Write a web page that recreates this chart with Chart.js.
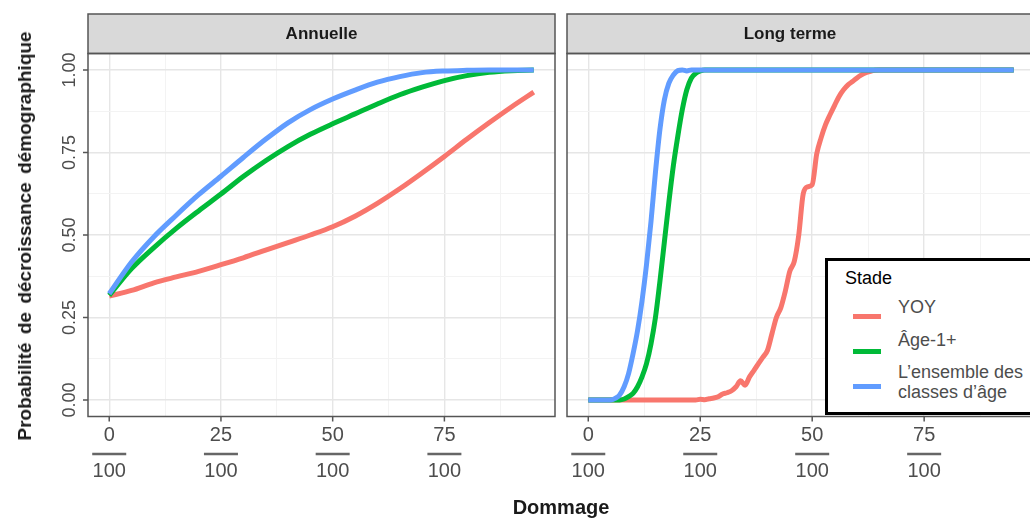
<!DOCTYPE html>
<html>
<head>
<meta charset="utf-8">
<title>Probabilité de décroissance démographique</title>
<script src="https://cdn.jsdelivr.net/npm/chart.js@4.4.1/dist/chart.umd.min.js"></script>
<style>
  html, body { margin: 0; padding: 0; background: #fff; overflow: hidden; }
  body { position: relative; width: 1030px; height: 518px; font-family: "Liberation Sans", Arial, sans-serif; }
  #wrapL { position: absolute; left: 0; top: 0; width: 562px; height: 518px; }
  #wrapR { position: absolute; left: 562px; top: 0; width: 480px; height: 518px; }
  .ytitle { position: absolute; left: 25px; top: 236px; transform: translate(-50%, -50%) rotate(-90deg);
            font-weight: bold; font-size: 19px; color: #1a1a1a; white-space: nowrap; word-spacing: 3px; }
  .xtitle { position: absolute; left: 561px; top: 507px; transform: translate(-50%, -50%);
            font-weight: bold; font-size: 20px; color: #1a1a1a; white-space: nowrap; }
  #legend { position: absolute; left: 825px; top: 258px; width: 220px; height: 157px; box-sizing: border-box;
            border: 3px solid #000; background: #fff; }
  #legend .lt { position: absolute; font-size: 18px; color: #000; line-height: 20px; }
  #legend .key { position: absolute; width: 28px; height: 5px; }
  #legend .lab { position: absolute; font-size: 18px; color: #4d4d4d; line-height: 20px; white-space: nowrap; }
</style>
</head>
<body>
<div id="wrapL"><canvas id="chartL" width="562" height="518"></canvas></div>
<div id="wrapR"><canvas id="chartR" width="480" height="518"></canvas></div>
<div class="ytitle">Probabilité de décroissance démographique</div>
<div class="xtitle">Dommage</div>
<div id="legend"></div>

<script>
// ---- data ----
const panelTitles = ["Annuelle", "Long terme"];
const seriesNames = ["YOY", "Âge-1+", "L’ensemble des\nclasses d’âge"];

const annualDamage = [0, 5, 10, 15, 20, 25, 30, 35, 40, 45, 50, 55, 60, 65, 70, 75, 80, 85, 90, 95];
const annualYOY  = [0.315, 0.332, 0.355, 0.373, 0.39, 0.41, 0.431, 0.454, 0.477, 0.50,
                    0.525, 0.557, 0.596, 0.64, 0.688, 0.738, 0.79, 0.84, 0.888, 0.933];
const annualAge1 = [0.317, 0.398, 0.462, 0.52, 0.573, 0.624, 0.677, 0.725, 0.768, 0.805,
                    0.837, 0.867, 0.897, 0.925, 0.948, 0.968, 0.983, 0.993, 0.998, 1];
const annualAll  = [0.322, 0.418, 0.495, 0.56, 0.622, 0.678, 0.735, 0.79, 0.84, 0.88,
                    0.912, 0.939, 0.963, 0.98, 0.992, 0.997, 0.999, 1, 1, 1];

const longDamage = [0, 2, 4, 5, 6, 7, 8, 9, 10, 11,
                    12, 13, 14, 15, 16, 17, 18, 19, 20, 21,
                    22, 23, 24, 25, 26, 27, 28, 29, 30, 31,
                    32, 33, 34, 35, 36, 37, 38, 39, 40, 41,
                    42, 43, 44, 45, 46, 47, 48, 49, 50, 51,
                    52, 53, 54, 55, 56, 57, 58, 59, 60, 61,
                    62, 63, 64, 65, 66, 70, 75, 80, 85, 90,
                    95];
const longYOY  = [0, 0, 0, 0, 0, 0, 0, 0, 0, 0,
                  0, 0, 0, 0, 0, 0, 0, 0, 0, 0,
                  0, 0, 0, 0.002, 0.001, 0.004, 0.006, 0.01, 0.018, 0.022,
                  0.028, 0.04, 0.058, 0.045, 0.07, 0.09, 0.11, 0.13, 0.15, 0.2,
                  0.25, 0.28, 0.33, 0.39, 0.42, 0.50, 0.625, 0.646, 0.652, 0.745,
                  0.795, 0.835, 0.865, 0.893, 0.92, 0.94, 0.955, 0.965, 0.976, 0.985,
                  0.992, 0.996, 0.999, 1, 1, 1, 1, 1, 1, 1,
                  1];
const longAge1 = [0, 0, 0, 0, 0, 0, 0.003, 0.01, 0.02, 0.04,
                  0.07, 0.11, 0.17, 0.25, 0.36, 0.48, 0.60, 0.71, 0.80, 0.88,
                  0.94, 0.975, 0.99, 0.997, 1, 1, 1, 1, 1, 1,
                  1, 1, 1, 1, 1, 1, 1, 1, 1, 1,
                  1, 1, 1, 1, 1, 1, 1, 1, 1, 1,
                  1, 1, 1, 1, 1, 1, 1, 1, 1, 1,
                  1, 1, 1, 1, 1, 1, 1, 1, 1, 1,
                  1];
const longAll  = [0, 0, 0, 0, 0.005, 0.015, 0.04, 0.08, 0.14, 0.21,
                  0.30, 0.41, 0.54, 0.69, 0.82, 0.91, 0.96, 0.985, 0.998, 1,
                  0.997, 1, 1, 1, 1, 1, 1, 1, 1, 1,
                  1, 1, 1, 1, 1, 1, 1, 1, 1, 1,
                  1, 1, 1, 1, 1, 1, 1, 1, 1, 1,
                  1, 1, 1, 1, 1, 1, 1, 1, 1, 1,
                  1, 1, 1, 1, 1, 1, 1, 1, 1, 1,
                  1];

const xTicks = [0, 25, 50, 75];
const xMinor = [12.5, 37.5, 62.5, 87.5];
const yTicks = [0, 0.25, 0.5, 0.75, 1];
const yMinor = [0.125, 0.375, 0.625, 0.875];
const xDenominator = "100";

// ---- styling ----
const colors = ["#F8766D", "#00BA38", "#619CFF"];
const FONT = '"Liberation Sans", Arial, sans-serif';
const STRIP_TOP = 14;
const AREA_TOP = 53.5;
const AREA_BOTTOM = 416.5;

// strips, panel border, ticks and the fraction labels
const facetDecor = {
  id: "facetDecor",
  afterDraw(chart, args, o) {
    const { ctx, chartArea: a, scales: { x, y } } = chart;
    ctx.save();

    ctx.fillStyle = "#d9d9d9";
    ctx.fillRect(a.left, STRIP_TOP, a.right - a.left, a.top - STRIP_TOP);
    ctx.strokeStyle = "#555";
    ctx.lineWidth = 1.5;
    ctx.strokeRect(a.left, STRIP_TOP, a.right - a.left, a.top - STRIP_TOP);
    ctx.strokeRect(a.left, a.top, a.right - a.left, a.bottom - a.top);

    ctx.fillStyle = "#1a1a1a";
    ctx.font = "bold 17px " + FONT;
    ctx.textAlign = "center";
    ctx.textBaseline = "middle";
    ctx.fillText(o.title, (a.left + a.right) / 2 + (o.titleShift || 0), (STRIP_TOP + a.top) / 2 + 1);

    // x axis: tick marks + "n / 100" labels
    ctx.font = "20px " + FONT;
    xTicks.forEach((v) => {
      const px = x.getPixelForValue(v);
      ctx.strokeStyle = "#555";
      ctx.lineWidth = 1.5;
      ctx.beginPath();
      ctx.moveTo(px, a.bottom);
      ctx.lineTo(px, a.bottom + 5);
      ctx.stroke();
      ctx.fillStyle = "#4d4d4d";
      ctx.fillText(String(v), px, 435);
      ctx.fillText(xDenominator, px, 471);
      ctx.lineWidth = 2.5;
      ctx.strokeStyle = "#666";
      ctx.beginPath();
      ctx.moveTo(px - 17, 454);
      ctx.lineTo(px + 17, 454);
      ctx.stroke();
    });

    if (o.showY) {
      ctx.font = "18px " + FONT;
      yTicks.forEach((v) => {
        const py = y.getPixelForValue(v);
        ctx.strokeStyle = "#555";
        ctx.lineWidth = 1.5;
        ctx.beginPath();
        ctx.moveTo(a.left - 5, py);
        ctx.lineTo(a.left, py);
        ctx.stroke();
        ctx.save();
        ctx.translate(70, py);
        ctx.rotate(-Math.PI / 2);
        ctx.fillStyle = "#4d4d4d";
        ctx.fillText(v.toFixed(2), 0, 0);
        ctx.restore();
      });
    }
    ctx.restore();
  },
};

function isMajor(v, step) {
  return Math.abs(v / step - Math.round(v / step)) < 1e-9;
}

function makePanel(canvasId, damage, values, opts) {
  const datasets = values.map((vals, i) => ({
    label: seriesNames[i],
    data: damage.map((d, j) => ({ x: d, y: vals[j] })),
    borderColor: colors[i],
    borderWidth: 5,
    pointRadius: 0,
    fill: false,
    cubicInterpolationMode: "monotone",
    borderJoinStyle: "round",
    order: values.length - i,
  }));

  return new Chart(document.getElementById(canvasId), {
    type: "line",
    data: { datasets },
    plugins: [facetDecor],
    options: {
      responsive: false,
      animation: false,
      devicePixelRatio: 1,
      events: [],
      layout: { padding: { top: AREA_TOP, right: opts.padRight, left: 0, bottom: 0 } },
      plugins: {
        legend: { display: false },
        tooltip: { enabled: false },
        facetDecor: { title: opts.title, showY: opts.showY, titleShift: opts.titleShift },
      },
      scales: {
        x: {
          type: "linear",
          min: -4.75,
          max: 99.75,
          afterBuildTicks: (s) => { s.ticks = xTicks.concat(xMinor).sort((p, q) => p - q).map((v) => ({ value: v })); },
          afterFit: (s) => { s.height = 518 - AREA_BOTTOM; },
          ticks: { display: false },
          border: { display: false },
          grid: {
            drawTicks: false,
            color: (c) => (isMajor(c.tick.value, 25) ? "#e6e6e6" : "#f3f3f3"),
            lineWidth: (c) => (isMajor(c.tick.value, 25) ? 1.4 : 1),
          },
        },
        y: {
          type: "linear",
          min: -0.05,
          max: 1.05,
          afterBuildTicks: (s) => { s.ticks = yTicks.concat(yMinor).sort((p, q) => p - q).map((v) => ({ value: v })); },
          afterFit: (s) => { s.width = opts.yWidth; },
          ticks: { display: false },
          border: { display: false },
          grid: {
            drawTicks: false,
            color: (c) => (isMajor(c.tick.value, 0.25) ? "#e6e6e6" : "#f3f3f3"),
            lineWidth: (c) => (isMajor(c.tick.value, 0.25) ? 1.4 : 1),
          },
        },
      },
    },
  });
}

function buildLegend() {
  const box = document.getElementById("legend");
  const ox = 825 + 3, oy = 258 + 3; // page -> legend content coords
  const keyY = [316, 351, 386];
  const labY = [307, 340, 372];
  let html = `<div class="lt" style="left:${845 - ox}px; top:${278 - 10 - oy}px">Stade</div>`;
  seriesNames.forEach((name, i) => {
    html += `<div class="key" style="left:${853 - ox}px; top:${keyY[i] - 2.5 - oy}px; background:${colors[i]}"></div>`;
    name.split("\n").forEach((line, k) => {
      html += `<div class="lab" style="left:${898 - ox}px; top:${labY[i] + k * 20 - 10 - oy}px">${line}</div>`;
    });
  });
  box.innerHTML = html;
}

document.addEventListener("DOMContentLoaded", () => {
  makePanel("chartL", annualDamage, [annualYOY, annualAge1, annualAll],
    { title: panelTitles[0], showY: true, yWidth: 88, padRight: 7 });
  makePanel("chartR", longDamage, [longYOY, longAge1, longAll],
    { title: panelTitles[1], showY: false, yWidth: 5, padRight: 7, titleShift: -11 });
  buildLegend();
});
</script>
</body>
</html>
